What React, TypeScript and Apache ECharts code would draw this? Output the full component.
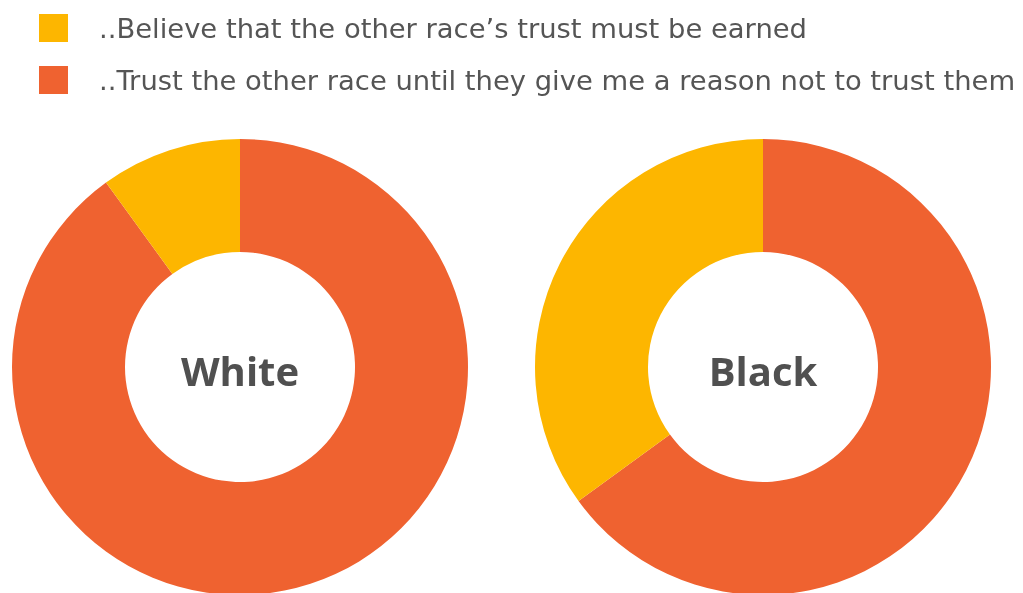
import React, { useEffect, useRef } from "react";
import * as echarts from "echarts";

const categories = [
  "..Trust the other race until they give me a reason not to trust them",
  "..Believe that the other race’s trust must be earned",
];
const legendOrder = [categories[1], categories[0]];
const groups = ["White", "Black"];
const trustUntilReason = [90, 65];
const trustMustBeEarned = [10, 35];
const colors = ["#EF6230", "#FDB600"];

export default function App() {
  const ref = useRef<HTMLDivElement>(null);
  useEffect(() => {
    if (!ref.current) return;
    const chart = echarts.init(ref.current, undefined, { renderer: "svg" });
    const centersX = [240, 763];
    chart.setOption({
      animation: false,
      color: colors,
      legend: {
        orient: "vertical",
        left: 34,
        top: 9,
        itemWidth: 29,
        itemHeight: 28,
        itemGap: 24,
        icon: "rect",
        data: legendOrder,
        selectedMode: false,
        textStyle: {
          fontFamily: "DejaVu Sans",
          fontSize: 27.4,
          color: "#555555",
          padding: [0, 0, 3, 26],
        },
      },
      graphic: groups.map((g, i) => ({
        type: "text",
        x: centersX[i],
        y: 370,
        style: {
          text: g,
          fontFamily: "Open Sans",
          fontWeight: "bold",
          fontSize: 40,
          fill: "#505050",
          textAlign: "center",
          textVerticalAlign: "middle",
        },
      })),
      series: groups.map((g, i) => ({
        type: "pie",
        name: g,
        center: [centersX[i], 367],
        radius: [115, 228],
        startAngle: 90,
        clockwise: true,
        label: { show: false },
        labelLine: { show: false },
        emphasis: { disabled: true },
        itemStyle: { borderWidth: 0 },
        data: [
          { name: categories[0], value: trustUntilReason[i] },
          { name: categories[1], value: trustMustBeEarned[i] },
        ],
      })),
    });
    return () => chart.dispose();
  }, []);
  return (
    <div
      ref={ref}
      style={{ position: "fixed", left: 0, top: 0, width: 1023, height: 593 }}
    />
  );
}
